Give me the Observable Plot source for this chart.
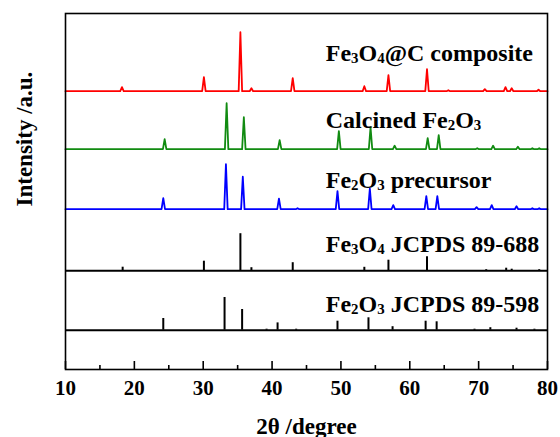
<!DOCTYPE html>
<html><head><meta charset="utf-8">
<script src="https://cdn.jsdelivr.net/npm/d3@7"></script>
<script src="https://cdn.jsdelivr.net/npm/@observablehq/plot@0.6"></script>
<style>html,body{margin:0;padding:0;background:#fff}#chart svg{display:block}</style>
</head><body><div id="chart"></div>
<script>
// ---- data ----
const seriesNames = ["Fe3O4@C composite", "Calcined Fe2O3", "Fe2O3 precursor", "Fe3O4 JCPDS 89-688", "Fe2O3 JCPDS 89-598"];
const seriesOffsets = [278.3, 220.3, 160.3, 98.8, 39.3];   // stacking offset (a.u.)
const labelY = [309, 242, 182, 118, 58];                    // label baseline (a.u.)
const seriesColors = ["#ff0000", "#118b11", "#0000ff"];

// [2θ, intensity (a.u.)]
const compositePeaks = [[18.2,4],[30.1,14],[35.4,59],[37.0,3],[43.0,13],[53.4,5],[56.9,16],[62.5,22],[65.6,1],[70.9,2],[73.9,4],[74.8,3],[78.7,1.5]];
const calcinedPeaks = [[24.4,10],[33.4,46],[35.9,32],[41.1,9],[49.7,18],[54.3,22],[57.8,3.5],[62.6,11],[64.2,14],[69.8,1],[72.1,3.5],[75.7,2.5],[77.8,1],[78.8,1]];
const precursorPeaks = [[24.2,11],[33.3,45],[35.75,32.5],[41.0,10.5],[43.7,1],[49.5,18],[54.2,20.7],[57.6,4],[62.4,13],[64.0,13],[69.7,2],[71.9,4],[75.5,3],[77.8,1],[78.8,1]];
const fe3o4Ref = [[18.3,3.5],[30.1,9.5],[35.4,37],[37.0,3],[43.0,8],[53.4,3.4],[56.9,10.5],[62.5,14],[71.1,1],[74.0,2.5],[74.8,1.5],[78.8,1]];
const fe2o3Ref = [[24.2,11.7],[33.1,32.7],[35.65,20.7],[39.2,1],[40.8,7.3],[43.5,1],[49.5,9],[54.0,12.4],[57.5,3.5],[62.3,9],[63.9,8.4],[69.4,1],[71.7,2.5],[75.5,2],[78.1,1]];

const xTicks = [10, 20, 30, 40, 50, 60, 70, 80];
const xMinorTicks = [15, 25, 35, 45, 55, 65, 75];
const xRange = [10, 80];

// ---- build tables ----
const halfWidth = 0.25;
const expSets = [compositePeaks, calcinedPeaks, precursorPeaks];
const expData = [];
expSets.forEach((peaks, s) => {
  const name = seriesNames[s], off = seriesOffsets[s];
  expData.push({series: name, x: xRange[0], y: off});
  peaks.forEach(([p, h]) => {
    expData.push({series: name, x: p - halfWidth, y: off});
    expData.push({series: name, x: p, y: off + h});
    expData.push({series: name, x: p + halfWidth, y: off});
  });
  expData.push({series: name, x: xRange[1], y: off});
});
const refData = [];
[fe3o4Ref, fe2o3Ref].forEach((peaks, k) => {
  const off = seriesOffsets[3 + k];
  peaks.forEach(([p, h]) => refData.push({x: p, base: off, top: off + h}));
});
const labels = seriesNames.map((n, i) => ({name: n, y: labelY[i]}));

const font = "'Liberation Serif', 'Times New Roman', serif";
const plot = Plot.plot({
  width: 560, height: 437,
  marginLeft: 65, marginRight: 13, marginTop: 13, marginBottom: 68,
  style: {fontFamily: font, fontWeight: "bold", background: "white", color: "black"},
  x: {domain: xRange, label: null},
  y: {domain: [0, 356], axis: null},
  color: {domain: seriesNames.slice(0, 3), range: seriesColors},
  marks: [
    Plot.ruleY(seriesOffsets.slice(3), {stroke: "black", strokeWidth: 2}),
    Plot.ruleX(refData, {x: "x", y1: "base", y2: "top", stroke: "black", strokeWidth: 2}),
    Plot.line(expData, {x: "x", y: "y", z: "series", stroke: "series", strokeWidth: 1.8}),
    Plot.text(labels, {x: 47.8, y: "y", text: "name", textAnchor: "start", lineAnchor: "bottom", fontSize: 24, fill: "black"}),
    Plot.frame({stroke: "black", strokeWidth: 1.6}),
    Plot.axisX(xTicks, {anchor: "bottom", tickSize: -8, tickPadding: 19, fontSize: 21, strokeWidth: 1.6, label: null}),
    Plot.axisX(xMinorTicks, {anchor: "bottom", tickSize: -4, tickFormat: () => "", strokeWidth: 1.6, label: null}),
    Plot.text(["2θ /degree"], {text: d => d, frameAnchor: "bottom", dy: 64, lineAnchor: "bottom", fontSize: 23, fill: "black"}),
    Plot.text(["Intensity /a.u."], {text: d => d, frameAnchor: "left", rotate: -90, dx: -34, dy: 15, lineAnchor: "bottom", fontSize: 23, fill: "black"})
  ]
});

// chemical subscripts
d3.select(plot).selectAll("text").each(function () {
  const t = this.textContent;
  if (!/(?<=Fe|O)\d/.test(t)) return;
  const re = /(?<=Fe|O)\d/g;
  this.textContent = "";
  let last = 0, m, shifted = false;
  const sel = d3.select(this);
  while ((m = re.exec(t))) {
    if (m.index > last) {
      const a = sel.append("tspan").text(t.slice(last, m.index));
      if (shifted) { a.attr("dy", -2); shifted = false; }
    }
    sel.append("tspan").attr("font-size", "0.62em").attr("dy", shifted ? 0 : 2).text(m[0]);
    shifted = true;
    last = m.index + 1;
  }
  if (last < t.length) {
    const a = sel.append("tspan").text(t.slice(last));
    if (shifted) a.attr("dy", -2);
  }
});
document.getElementById("chart").append(plot);
</script>
</body></html>
